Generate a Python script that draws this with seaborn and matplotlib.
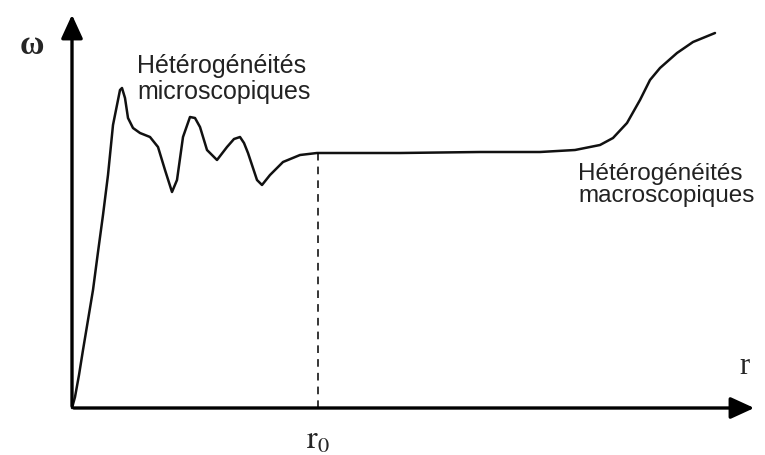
import numpy as np
import pandas as pd
import seaborn as sns
import matplotlib.pyplot as plt

# curve (pixel positions, converted below)
r_px = [72, 75, 79, 83, 88, 93, 98, 103, 108, 113, 117, 120, 122, 125, 128,
        133, 140, 150, 158, 165, 172, 177, 183, 190, 195, 200, 207, 217, 227, 234,
        240, 244, 248, 257, 262, 270, 283, 300, 317, 330, 400, 480, 540, 575, 600,
        613, 627, 640, 650, 660, 677, 693, 715]
w_px = [408, 397, 375, 350, 320, 290, 252, 215, 175, 125, 105, 90, 88, 98, 118,
        128, 133, 137, 147, 170, 192, 180, 137, 117, 118, 127, 150, 160, 147, 139,
        137, 143, 153, 180, 185, 175, 162, 155, 153, 153, 153, 152, 152, 150, 145,
        138, 123, 100, 80, 68, 53, 42, 33]
r0 = 318
x0, y0 = 72, 408

df = pd.DataFrame({'r': np.array(r_px) - x0, 'omega': y0 - np.array(w_px)})
r0_val = r0 - x0
r0_omega = y0 - 153

sns.set_theme(style='white')
plt.rcParams['mathtext.fontset'] = 'stix'
fig = plt.figure(figsize=(7.65, 4.55), dpi=100)
ax = fig.add_axes([0, 0, 1, 1])
ax.set_xlim(-x0, 765 - x0)
ax.set_ylim(y0 - 455, y0)
ax.axis('off')

sns.lineplot(data=df, x='r', y='omega', sort=False, estimator=None,
             color='#111111', lw=1.8, ax=ax)

# axes with arrows
ax.annotate('', xy=(757 - x0, 0), xytext=(-1, 0),
            arrowprops=dict(arrowstyle='-|>,head_length=1.2,head_width=0.55', lw=2.4, color='black'))
ax.annotate('', xy=(0, y0 - 12), xytext=(0, -1),
            arrowprops=dict(arrowstyle='-|>,head_length=1.2,head_width=0.55', lw=2.4, color='black'))

ax.plot([r0_val, r0_val], [0, r0_omega], ls=(0, (5, 4)), lw=1.1, color='black')

ax.text(r0_val, -32, r'$\mathrm{r}_0$', ha='center', va='center', fontsize=23)
ax.text(744 - x0, y0 - 367, 'r', ha='center', va='center', fontsize=22, family='Liberation Serif')
ax.text(32 - x0, y0 - 45, 'ω', ha='center', va='center', fontsize=24,
        family='Liberation Serif', fontweight='bold')

ax.text(137 - x0, y0 - 79, 'Hétérogénéités\nmicroscopiques', ha='left', va='center',
        fontsize=18, family='Liberation Sans', color='#222222', linespacing=1.15)
ax.text(578 - x0, y0 - 185, 'Hétérogénéités\nmacroscopiques', ha='left', va='center',
        fontsize=17.5, family='Liberation Sans', color='#222222', linespacing=1.0)

fig.savefig('out.png', dpi=100)
